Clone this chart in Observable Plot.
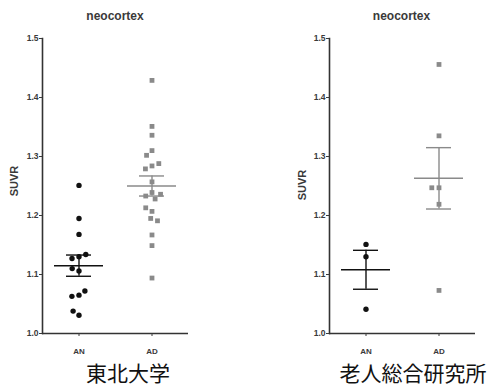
<!DOCTYPE html>
<html><head><meta charset="utf-8">
<script src="https://cdn.jsdelivr.net/npm/d3@7"></script>
<script src="https://cdn.jsdelivr.net/npm/@observablehq/plot@0.6"></script>
<style>
body{margin:0;background:#fff;font-family:"Liberation Sans",Arial,sans-serif;}
#wrap{position:relative;width:490px;height:386px;overflow:hidden;}
.panel{position:absolute;top:0;width:245px;height:386px;}
.title{position:absolute;top:10px;font-weight:bold;font-size:12px;line-height:12px;color:#3a3a3a;text-align:center;}
.ylab{position:absolute;font-weight:bold;font-size:11px;line-height:11px;color:#3a3a3a;white-space:nowrap;transform:translate(-50%,-50%) rotate(-90deg);}
.caption{position:absolute;top:362px;font-family:"Noto Sans CJK JP",sans-serif;font-size:21px;line-height:21px;color:#111;white-space:nowrap;transform:translateX(-50%);}
.panel svg{position:absolute;top:30px;left:0;}
</style>
</head><body>
<div id="wrap"></div>
<script>
const groups = ["AN", "AD"];
const chartTitle = "neocortex";
const yLabel = "SUVR";
const yTicks = [1.0, 1.1, 1.2, 1.3, 1.4, 1.5];

// 東北大学
const tohokuAN = [1.251, 1.195, 1.168, 1.130, 1.127, 1.134, 1.106, 1.110, 1.065, 1.063, 1.072, 1.031, 1.038];
const tohokuAD = [1.429, 1.351, 1.336, 1.310, 1.302, 1.284, 1.279, 1.288, 1.257, 1.239, 1.233, 1.228, 1.236, 1.207, 1.213, 1.195, 1.191, 1.167, 1.149, 1.094];
const tohokuMean = [1.115, 1.250];
const tohokuSemLow = [1.097, 1.233];
const tohokuSemHigh = [1.133, 1.267];

// 老人総合研究所
const tmigAN = [1.151, 1.130, 1.041];
const tmigAD = [1.456, 1.335, 1.247, 1.247, 1.219, 1.073];
const tmigMean = [1.108, 1.263];
const tmigSemLow = [1.075, 1.211];
const tmigSemHigh = [1.141, 1.315];

const captions = ["東北大学", "老人総合研究所"];

function makePanel(an, ad, mean, lo, hi, ml, mr) {
  const pts = [
    ...an.map(v => ({group: "AN", value: v})),
    ...ad.map(v => ({group: "AD", value: v}))
  ];
  const stats = groups.map((g, i) => ({group: g, mean: mean[i], lo: lo[i], hi: hi[i]}));
  return Plot.plot({
    width: 245, height: 330,
    marginTop: 8, marginBottom: 27, marginLeft: ml, marginRight: mr,
    fx: {domain: groups, padding: 0, label: null},
    y: {domain: [1.0, 1.5]},
    color: {domain: groups, range: ["#111111", "#8a8a8a"]},
    symbol: {domain: groups, range: ["circle", "square"]},
    style: {fontFamily: "Liberation Sans, Arial, sans-serif", fontSize: "8px", fontWeight: "bold", color: "#3a3a3a", background: "transparent"},
    marks: [
      Plot.ruleY([1.0], {stroke: "#333", strokeWidth: 1.6}),
      Plot.frame({anchor: "left", facetAnchor: "left", stroke: "#333", strokeWidth: 1.6}),
      Plot.axisY({ticks: yTicks, tickFormat: d3.format(".1f"), tickSize: 3, tickPadding: 1, label: null, fontSize: 8.5}),
      Plot.axisFx({anchor: "bottom", tickSize: 3, tickPadding: 12, fontSize: 8, label: null}),
      Plot.dot(pts, Plot.dodgeX({anchor: "middle", padding: 1.8},
        {fx: "group", y: "value", r: 2.7, fill: "group", symbol: "group", stroke: "none"})),
      Plot.ruleX(stats, {fx: "group", x: null, y1: "lo", y2: "hi", stroke: "group", strokeWidth: 1.4}),
      Plot.tickY(stats, {fx: "group", y: "mean", stroke: "group", strokeWidth: 1.5, insetLeft: 12, insetRight: 12}),
      Plot.tickY(stats, {fx: "group", y: "lo", stroke: "group", strokeWidth: 1.4, insetLeft: 24, insetRight: 24}),
      Plot.tickY(stats, {fx: "group", y: "hi", stroke: "group", strokeWidth: 1.4, insetLeft: 24, insetRight: 24})
    ]
  });
}

const wrap = document.getElementById("wrap");
const specs = [
  {left: 0, ml: 42, mr: 57, capX: 128, labX: 14, labY: 181, data: [tohokuAN, tohokuAD, tohokuMean, tohokuSemLow, tohokuSemHigh]},
  {left: 245, ml: 83, mr: 15, capX: 168, labX: 57, labY: 185, data: [tmigAN, tmigAD, tmigMean, tmigSemLow, tmigSemHigh]}
];
specs.forEach((s, k) => {
  const p = document.createElement("div");
  p.className = "panel";
  p.style.left = s.left + "px";
  const t = document.createElement("div");
  t.className = "title";
  t.style.left = s.ml + "px";
  t.style.width = (245 - s.ml - s.mr) + "px";
  t.textContent = chartTitle;
  p.appendChild(t);
  p.appendChild(makePanel(...s.data, s.ml, s.mr));
  const l = document.createElement("div");
  l.className = "ylab";
  l.style.left = s.labX + "px";
  l.style.top = s.labY + "px";
  l.textContent = yLabel;
  p.appendChild(l);
  const c = document.createElement("div");
  c.className = "caption";
  c.style.left = s.capX + "px";
  c.textContent = captions[k];
  p.appendChild(c);
  wrap.appendChild(p);
});
</script>
</body></html>
